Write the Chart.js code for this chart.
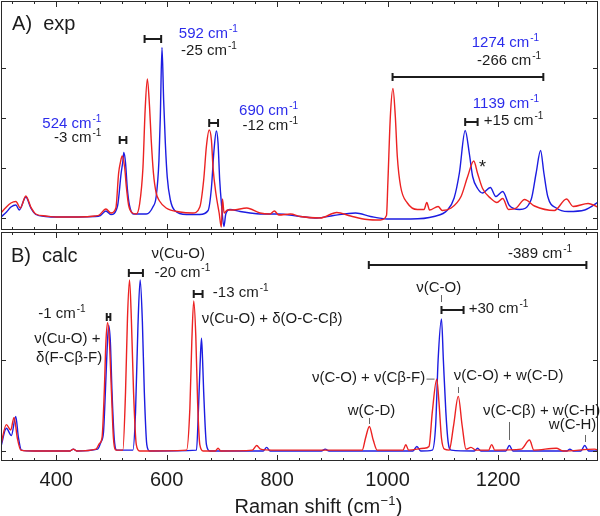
<!DOCTYPE html>
<html>
<head>
<meta charset="utf-8">
<script src="https://cdn.jsdelivr.net/npm/chart.js@4.4.0/dist/chart.umd.min.js"></script>
<style>
  html, body { margin: 0; padding: 0; background: #fff; }
  #wrap { position: relative; width: 600px; height: 516px; overflow: hidden; }
  #expChart { position: absolute; left: 0; top: 0; }
  #calcChart { position: absolute; left: 0; top: 231px; }
</style>
</head>
<body>
<div id="wrap">
  <canvas id="expChart" width="600" height="231"></canvas>
  <canvas id="calcChart" width="600" height="285"></canvas>
</div>
<script>
// x range and ticks (Raman shift, cm-1)
const xMin = 300, xMax = 1381;
const xTickLabels = [400, 600, 800, 1000, 1200];
const xMinorStart = 320, xMinorStep = 40;
const expYTicks = [0, 1, 2, 3];
const calcYTicks = [0, 1];

// A) experimental spectra
const expRedX = [300, 308, 318, 327, 335, 345, 354, 363, 381, 400, 440, 470, 478, 490, 499, 508, 513, 516, 519.5, 524, 527, 531, 538, 545, 551, 557, 561, 565, 569, 572, 576, 581, 587, 599, 624, 647, 660, 667, 672, 677, 681, 684, 689, 695, 699, 701, 704, 710, 720, 745, 769, 787, 795, 803, 824, 842, 878, 908, 933, 963, 987, 998, 1000.5, 1005, 1009.7, 1014, 1017.6, 1023.6, 1035.8, 1054, 1066, 1071, 1076, 1091.5, 1099, 1115, 1133, 1145, 1156, 1163, 1172, 1187, 1198, 1208.5, 1219, 1233, 1248, 1266, 1302, 1324, 1336, 1363, 1384];
const expRedY = [0.10, 0.20, 0.30, 0.33, 0.20, 0.44, 0.22, 0.08, 0.04, 0.02, 0.02, 0.04, 0.06, 0.18, 0.10, 0.20, 0.90, 1.10, 1.24, 1.00, 0.62, 0.26, 0.10, 0.08, 0.28, 1.00, 2.16, 2.78, 2.22, 1.56, 0.90, 0.50, 0.34, 0.20, 0.12, 0.10, 0.22, 0.76, 1.44, 1.76, 1.56, 1.00, 0.50, 0.10, -0.18, 0.38, 0.10, 0.16, 0.16, 0.20, 0.10, 0.08, 0.14, 0.06, 0.08, 0.03, 0.00, 0.11, 0.04, -0.03, -0.04, 0.05, 0.70, 2.03, 2.59, 2.03, 1.23, 0.63, 0.30, 0.17, 0.17, 0.31, 0.16, 0.23, 0.15, 0.20, 0.43, 0.83, 1.14, 0.89, 0.59, 0.39, 0.31, 0.39, 0.17, 0.20, 0.37, 0.24, 0.15, 0.38, 0.23, 0.29, 0.20];
const expBlueX = [300, 310, 318, 327, 333, 345, 354, 363, 381, 400, 470, 480, 490, 499, 511, 517.6, 520.6, 522.4, 525.5, 528.5, 532.5, 540, 563, 575, 581, 586, 588.5, 591.5, 594.5, 597.6, 601, 606.7, 614.5, 636, 660, 675, 681, 685.5, 690, 693, 696, 699.5, 703.6, 707, 714.5, 733, 751, 769, 800, 842, 872, 902, 942, 969, 999, 1042, 1084, 1108.5, 1120.5, 1130, 1140.5, 1148, 1154, 1163, 1172, 1186, 1196, 1208.5, 1220.5, 1239, 1260, 1269, 1277, 1283, 1290, 1305.5, 1327, 1357, 1383];
const expBlueY = [0.02, 0.12, 0.22, 0.26, 0.16, 0.42, 0.20, 0.07, 0.03, 0.02, 0.03, 0.05, 0.14, 0.07, 0.24, 0.90, 1.13, 1.31, 1.10, 0.62, 0.26, 0.08, 0.08, 0.22, 0.43, 1.15, 2.03, 3.41, 2.36, 1.49, 0.82, 0.36, 0.15, 0.07, 0.07, 0.15, 0.60, 1.33, 1.74, 1.50, 0.76, 0.24, -0.17, 0.08, 0.17, 0.13, 0.10, 0.08, 0.08, 0.03, 0.00, 0.05, 0.10, 0.03, -0.02, -0.02, 0.03, 0.16, 0.40, 0.90, 1.75, 1.29, 0.83, 0.59, 0.50, 0.61, 0.43, 0.53, 0.25, 0.17, 0.37, 0.90, 1.35, 0.90, 0.43, 0.20, 0.13, 0.16, 0.33];

// B) calculated spectra
const calcRedX = [300, 309.7, 317.6, 323.6, 329.6, 335.8, 360, 425, 431, 437, 472, 478, 483, 487, 490, 493, 496, 500, 503.6, 508.5, 520.6, 525.5, 529, 532.7, 536, 540, 545, 551, 636, 642, 645.5, 649, 652.7, 656, 660, 666, 688, 693, 698, 755, 763, 770, 790, 842, 954, 960, 967, 974, 981, 1028, 1033, 1038, 1066, 1075, 1081, 1089, 1093, 1097.6, 1103, 1111.5, 1119.5, 1128, 1135, 1142, 1151, 1160, 1183, 1188.5, 1194, 1242, 1257, 1265, 1305.5, 1318, 1375, 1384];
const calcRedY = [0.07, 0.29, 0.23, 0.37, 0.14, 0.01, 0.00, 0.00, 0.02, 0.00, 0.02, 0.08, 0.15, 0.65, 1.20, 1.41, 1.24, 0.65, 0.14, 0.01, 0.01, 0.65, 1.46, 1.88, 1.46, 0.65, 0.07, 0.00, 0.01, 0.47, 1.20, 1.65, 1.27, 0.54, 0.07, 0.00, 0.00, 0.03, 0.00, 0.01, 0.06, 0.02, 0.01, 0.01, 0.01, 0.14, 0.27, 0.12, 0.01, 0.01, 0.07, 0.01, 0.03, 0.05, 0.43, 0.79, 0.54, 0.14, 0.02, 0.01, 0.28, 0.60, 0.28, 0.02, 0.04, 0.01, 0.01, 0.07, 0.01, 0.02, 0.12, 0.01, 0.03, 0.00, 0.02, 0.00];
const calcBlueX = [300, 309.7, 318.8, 326.7, 331.5, 337, 360, 425, 431, 437, 475, 481, 485.5, 489, 492, 495, 498, 501, 505, 509.7, 538.8, 543.6, 548, 552, 556, 559.5, 564, 569, 654, 657.6, 660.5, 663, 665, 667, 672, 678, 775, 781, 787, 880, 887, 894, 1046, 1053, 1060, 1081, 1087, 1091.5, 1097.6, 1101, 1105.5, 1109.6, 1115, 1157, 1163, 1169, 1214, 1220.5, 1227, 1325, 1330, 1336, 1350, 1357, 1364, 1384];
const calcBlueY = [0.05, 0.25, 0.17, 0.38, 0.15, 0.01, 0.00, 0.00, 0.02, 0.00, 0.02, 0.10, 0.20, 0.65, 1.10, 1.38, 1.20, 0.65, 0.14, 0.01, 0.01, 0.43, 1.38, 1.88, 1.42, 0.65, 0.07, 0.00, 0.01, 0.47, 0.95, 1.24, 1.00, 0.65, 0.07, 0.00, 0.00, 0.04, 0.00, 0.00, 0.02, 0.00, 0.00, 0.05, 0.00, 0.01, 0.28, 1.00, 1.45, 1.00, 0.43, 0.10, 0.01, 0.00, 0.03, 0.00, 0.00, 0.06, 0.00, 0.00, 0.02, 0.00, 0.00, 0.06, 0.00, 0.00];

const FONT = '"Liberation Sans", Arial, Helvetica, sans-serif';
const RED = 'rgb(236,34,34)';
const BLUE = 'rgb(28,28,225)';
const BLUE_TEXT = 'rgb(44,44,235)';
const INK = '#1c1c1c';

// annotations, anchored in data coordinates
const expNotes = [
  { text: 'A)  exp', x: 320, y: 3.76, size: 20 },
  { text: '524 cm', sup: '-1', x: 481.8, y: 1.80, align: 'right', color: BLUE_TEXT },
  { text: '-3 cm', sup: '-1', x: 481.8, y: 1.52, align: 'right' },
  { text: '592 cm', sup: '-1', x: 729, y: 3.60, align: 'right', color: BLUE_TEXT },
  { text: '-25 cm', sup: '-1', x: 727, y: 3.26, align: 'right' },
  { text: '690 cm', sup: '-1', x: 838, y: 2.06, align: 'right', color: BLUE_TEXT },
  { text: '-12 cm', sup: '-1', x: 838, y: 1.76, align: 'right' },
  { text: '1274 cm', sup: '-1', x: 1274.5, y: 3.42, align: 'right', color: BLUE_TEXT },
  { text: '-266 cm', sup: '-1', x: 1278, y: 3.06, align: 'right' },
  { text: '1139 cm', sup: '-1', x: 1274.5, y: 2.20, align: 'right', color: BLUE_TEXT },
  { text: '+15 cm', sup: '-1', x: 1282, y: 1.86, align: 'right' },
  { text: '*', x: 1165.5, y: 0.90, size: 18 }
];
const expBrackets = [
  { x1: 515, x2: 527, y: 1.56 },
  { x1: 560, x2: 590, y: 3.58 },
  { x1: 677, x2: 693, y: 1.90 },
  { x1: 1009, x2: 1282, y: 2.82 },
  { x1: 1140.5, x2: 1163, y: 1.926 }
];
const calcNotes = [
  { text: 'B)  calc', x: 318, y: 2.077, size: 20 },
  { text: 'ν(Cu-O)', x: 572.7, y: 2.12 },
  { text: '-20 cm', sup: '-1', x: 578, y: 1.912 },
  { text: '-13 cm', sup: '-1', x: 683.6, y: 1.692 },
  { text: 'ν(Cu-O) + δ(O-C-Cβ)', x: 663.6, y: 1.407 },
  { text: '-1 cm', sup: '-1', x: 367.3, y: 1.462 },
  { text: 'ν(Cu-O) +', x: 360, y: 1.187 },
  { text: 'δ(F-Cβ-F)', x: 363.6, y: 0.978 },
  { text: '-389 cm', sup: '-1', x: 1218, y: 2.12 },
  { text: 'ν(C-O)', x: 1092.7, y: 1.747, align: 'center' },
  { text: '+30 cm', sup: '-1', x: 1147, y: 1.516 },
  { text: 'ν(C-O) + ν(Cβ-F)', x: 1068, y: 0.758, align: 'right' },
  { text: 'ν(C-O) + w(C-D)', x: 1120, y: 0.78 },
  { text: 'w(C-D)', x: 970.9, y: 0.396, align: 'center' },
  { text: 'ν(C-Cβ) + w(C-H)', x: 1172.7, y: 0.396 },
  { text: 'w(C-H)', x: 1378, y: 0.242, align: 'right' }
];
const calcBrackets = [
  { x1: 491.5, x2: 498, y: 1.476 },
  { x1: 531.5, x2: 557, y: 1.953 },
  { x1: 649, x2: 665, y: 1.722 },
  { x1: 966, x2: 1360, y: 2.044 },
  { x1: 1097.6, x2: 1137.6, y: 1.549 }
];
const calcLeaders = [
  { x1: 1097.6, x2: 1097.6, y1: 1.714, y2: 1.637 },
  { x1: 1128, x2: 1128, y1: 0.703, y2: 0.637 },
  { x1: 967, x2: 967, y1: 0.363, y2: 0.297 },
  { x1: 1220.5, x2: 1220.5, y1: 0.319, y2: 0.121 },
  { x1: 1357, x2: 1357, y1: 0.176, y2: 0.099 },
  { x1: 1070, x2: 1084, y1: 0.79, y2: 0.79 }
];

function pts(xs, ys) {
  return xs.map((x, i) => ({ x: x, y: ys[i] }));
}

function drawNote(ctx, chart, n) {
  const px = chart.scales.x.getPixelForValue(n.x);
  const py = chart.scales.y.getPixelForValue(n.y);
  const size = n.size || 15;
  const supSize = Math.round(size * 0.68);
  ctx.font = size + 'px ' + FONT;
  const w1 = ctx.measureText(n.text).width;
  let w2 = 0;
  if (n.sup) {
    ctx.font = supSize + 'px ' + FONT;
    w2 = ctx.measureText(n.sup).width + 1;
  }
  const total = w1 + w2;
  let left = px;
  if (n.align === 'right') left = px - total;
  else if (n.align === 'center') left = px - total / 2;
  ctx.fillStyle = n.color || INK;
  ctx.textAlign = 'left';
  ctx.textBaseline = 'alphabetic';
  ctx.font = size + 'px ' + FONT;
  ctx.fillText(n.text, left, py);
  if (n.sup) {
    ctx.font = supSize + 'px ' + FONT;
    ctx.fillText(n.sup, left + w1 + 1, py - size * 0.38);
  }
}

const panelPlugin = {
  id: 'panel',
  afterDraw(chart, args, opts) {
    const ctx = chart.ctx, a = chart.chartArea;
    const xs = chart.scales.x, ys = chart.scales.y;
    ctx.save();
    // frame + inward ticks
    ctx.strokeStyle = '#2a2a2a';
    ctx.lineWidth = 1;
    ctx.strokeRect(a.left + 0.5, a.top + 0.5, a.right - a.left - 1, a.bottom - a.top - 1);
    ctx.beginPath();
    for (let v = xMinorStart; v < xMax; v += xMinorStep) {
      const p = Math.round(xs.getPixelForValue(v)) + 0.5;
      const len = xTickLabels.includes(v) ? 6 : 3;
      ctx.moveTo(p, a.bottom); ctx.lineTo(p, a.bottom - len);
      ctx.moveTo(p, a.top); ctx.lineTo(p, a.top + len);
    }
    opts.yTicks.forEach(v => {
      const p = Math.round(ys.getPixelForValue(v)) + 0.5;
      ctx.moveTo(a.left, p); ctx.lineTo(a.left + 5, p);
      ctx.moveTo(a.right, p); ctx.lineTo(a.right - 5, p);
    });
    ctx.stroke();

    // shift brackets
    ctx.strokeStyle = INK;
    ctx.lineWidth = 2;
    opts.brackets.forEach(b => {
      const x1 = xs.getPixelForValue(b.x1), x2 = xs.getPixelForValue(b.x2);
      const y = Math.round(ys.getPixelForValue(b.y));
      ctx.beginPath();
      ctx.moveTo(x1, y); ctx.lineTo(x2, y);
      ctx.moveTo(x1, y - 4); ctx.lineTo(x1, y + 4);
      ctx.moveTo(x2, y - 4); ctx.lineTo(x2, y + 4);
      ctx.stroke();
    });

    // leader lines
    ctx.strokeStyle = '#666';
    ctx.lineWidth = 1;
    (opts.leaders || []).forEach(l => {
      ctx.beginPath();
      ctx.moveTo(Math.round(xs.getPixelForValue(l.x1)) + 0.5, ys.getPixelForValue(l.y1));
      ctx.lineTo(Math.round(xs.getPixelForValue(l.x2)) + 0.5, ys.getPixelForValue(l.y2));
      ctx.stroke();
    });

    opts.notes.forEach(n => drawNote(ctx, chart, n));

    // axis title with superscript
    if (opts.axisTitle) {
      const cx = (a.left + a.right) / 2 + 19;
      const by = a.bottom + 52;
      ctx.fillStyle = INK;
      ctx.textBaseline = 'alphabetic';
      ctx.textAlign = 'left';
      ctx.font = '20px ' + FONT;
      const t1 = 'Raman shift (cm', t3 = ')';
      const w1 = ctx.measureText(t1).width, w3 = ctx.measureText(t3).width;
      ctx.font = '13px ' + FONT;
      const w2 = ctx.measureText('\u22121').width + 1;
      const left = cx - (w1 + w2 + w3) / 2;
      ctx.font = '20px ' + FONT;
      ctx.fillText(t1, left, by);
      ctx.fillText(t3, left + w1 + w2, by);
      ctx.font = '13px ' + FONT;
      ctx.fillText('\u22121', left + w1 + 0.5, by - 8);
    }
    ctx.restore();
  }
};

function lineSet(label, xs, ys, color) {
  return {
    label: label,
    data: pts(xs, ys),
    borderColor: color,
    borderWidth: 1.4,
    pointRadius: 0,
    fill: false,
    cubicInterpolationMode: 'monotone'
  };
}

new Chart(document.getElementById('expChart'), {
  type: 'line',
  data: {
    datasets: [
      lineSet('exp red', expRedX, expRedY, RED),
      lineSet('exp blue', expBlueX, expBlueY, BLUE)
    ]
  },
  options: {
    responsive: false,
    animation: false,
    devicePixelRatio: 1,
    layout: { padding: { left: 1, right: 2, top: 1, bottom: 1 } },
    plugins: {
      legend: { display: false },
      tooltip: { enabled: false },
      panel: { yTicks: expYTicks, notes: expNotes, brackets: expBrackets }
    },
    scales: {
      x: { type: 'linear', min: xMin, max: xMax, display: false },
      y: { min: -0.24, max: 4.34, display: false }
    }
  },
  plugins: [panelPlugin]
});

new Chart(document.getElementById('calcChart'), {
  type: 'line',
  data: {
    datasets: [
      lineSet('calc red', calcRedX, calcRedY, RED),
      lineSet('calc blue', calcBlueX, calcBlueY, BLUE)
    ]
  },
  options: {
    responsive: false,
    animation: false,
    devicePixelRatio: 1,
    layout: { padding: { left: 1, right: 2, top: 1, bottom: 0 } },
    plugins: {
      legend: { display: false },
      tooltip: { enabled: false },
      panel: { yTicks: calcYTicks, notes: calcNotes, brackets: calcBrackets, leaders: calcLeaders, axisTitle: true }
    },
    scales: {
      x: {
        type: 'linear', min: xMin, max: xMax,
        grid: { display: false, drawTicks: false },
        border: { display: false },
        ticks: {
          color: INK, font: { size: 20, family: FONT }, padding: 7, maxRotation: 0,
          callback: v => String(v)
        },
        afterBuildTicks: s => { s.ticks = xTickLabels.map(v => ({ value: v })); },
        afterFit: s => { s.height = 55; }
      },
      y: { min: -0.11, max: 2.407, display: false }
    }
  },
  plugins: [panelPlugin]
});
</script>
</body>
</html>
